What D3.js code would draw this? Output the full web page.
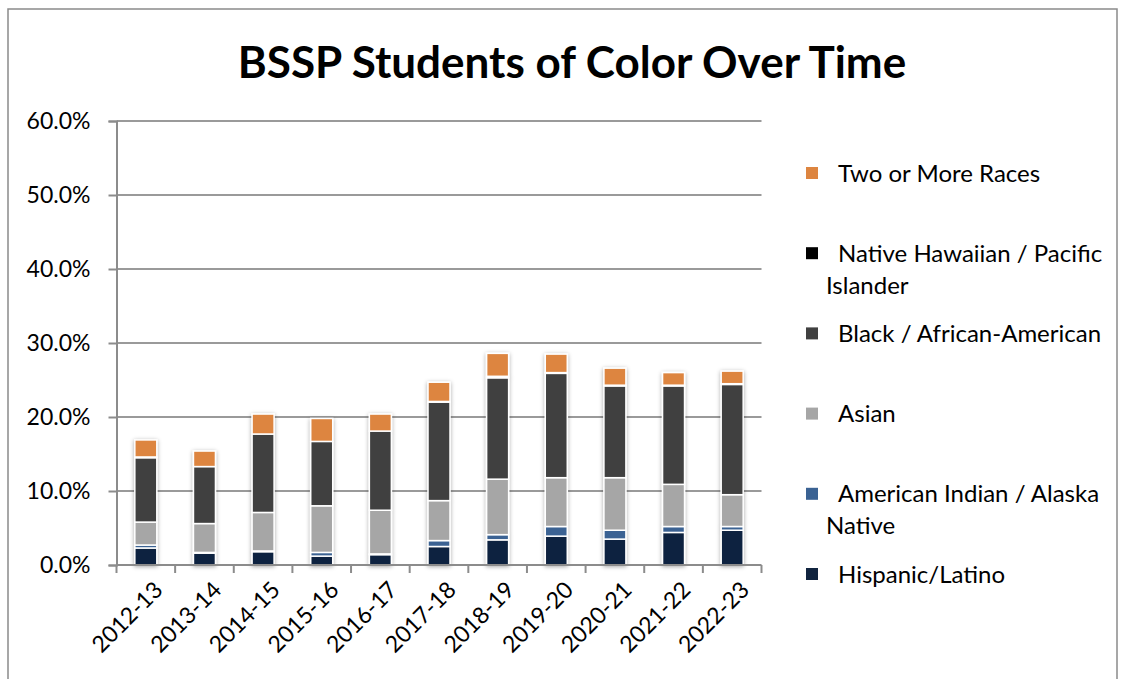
<!DOCTYPE html>
<html>
<head>
<meta charset="UTF-8">
<title>BSSP Students of Color Over Time</title>
<script src="https://d3js.org/d3.v7.min.js"></script>
<style>
    body { margin: 0; background: #fff; }
    svg { display: block; font-family: Lato, "Open Sans", sans-serif; }
    .grid line { stroke: #9a9a9a; stroke-width: 2; }
    .axis path, .axis line { stroke: #8c8c8c; stroke-width: 2; }
    .axis text { font-family: Lato, "Open Sans", sans-serif; font-size: 23px; fill: #000; }
    .legend text { font-size: 24px; fill: #000; }
</style>
</head>
<body>
<script>
// values in percent
var years = ["2012-13", "2013-14", "2014-15", "2015-16", "2016-17", "2017-18",
             "2018-19", "2019-20", "2020-21", "2021-22", "2022-23"];
var hispanic = [2.3, 1.6, 1.8, 1.2, 1.4, 2.5, 3.4, 3.9, 3.5, 4.4, 4.7];
var amIndian = [0.4, 0.1, 0.1, 0.5, 0.1, 0.8, 0.7, 1.3, 1.2, 0.8, 0.5];
var asian    = [3.1, 3.9, 5.2, 6.3, 5.9, 5.4, 7.5, 6.6, 7.1, 5.7, 4.3];
var black    = [8.7, 7.7, 10.6, 8.7, 10.7, 13.3, 13.7, 14.1, 12.4, 13.3, 14.9];
var nhpi     = [0.1, 0, 0, 0, 0, 0.1, 0.2, 0.1, 0.1, 0.1, 0.1];
var twoMore  = [2.3, 2.1, 2.7, 3.1, 2.3, 2.6, 3.1, 2.5, 2.3, 1.7, 1.7];
var yTicks   = [0, 10, 20, 30, 40, 50, 60];

var keys   = ["Hispanic/Latino", "American Indian / Alaska Native", "Asian",
              "Black / African-American", "Native Hawaiian / Pacific Islander", "Two or More Races"];
var series = [hispanic, amIndian, asian, black, nhpi, twoMore];
var colors = ["#11243f", "#3a6293", "#a6a6a6", "#404040", "#000000", "#dd8540"];

var W = 1123, H = 679;
var svg = d3.select("body").append("svg").attr("width", W).attr("height", H);

var defs = svg.append("defs");
var f = defs.append("filter").attr("id", "shadow")
    .attr("x", "-40%").attr("y", "-10%").attr("width", "180%").attr("height", "120%");
f.append("feDropShadow").attr("dx", 0).attr("dy", 1).attr("stdDeviation", 2)
    .attr("flood-color", "#000").attr("flood-opacity", 0.35);

// outer frame
svg.append("rect").attr("x", 8).attr("y", 9).attr("width", 1109).attr("height", 700)
    .attr("fill", "none").attr("stroke", "#8a8a8a").attr("stroke-width", 1.5);

svg.append("text").attr("x", 572).attr("y", 78).attr("text-anchor", "middle")
    .attr("font-size", 44).attr("font-weight", "bold").text("BSSP Students of Color Over Time");

var table = years.map(function (yr, i) {
    var row = {year: yr};
    keys.forEach(function (k, j) { row[k] = series[j][i]; });
    return row;
});
var stacked = d3.stack().keys(keys)(table);

var x = d3.scaleBand().domain(years).range([116.5, 761.5]);
var y = d3.scaleLinear().domain([0, 60]).range([565, 121]);
var color = d3.scaleOrdinal().domain(keys).range(colors);

svg.append("g").attr("class", "grid").selectAll("line").data(yTicks.slice(1)).enter().append("line")
    .attr("x1", x.range()[0]).attr("x2", x.range()[1])
    .attr("y1", function (d) { return y(d); }).attr("y2", function (d) { return y(d); });

var yAxis = svg.append("g").attr("class", "axis").attr("transform", "translate(" + x.range()[0] + ",0)")
    .call(d3.axisLeft(y).tickValues(yTicks).tickSize(8).tickPadding(18)
        .tickFormat(function (d) { return d.toFixed(1) + "%"; }));

// bars, one group per year
var barW = 22;
var groups = svg.append("g").selectAll("g.bar").data(years).enter().append("g")
    .attr("class", "bar").attr("filter", "url(#shadow)");
groups.selectAll("rect").data(function (yr, i) {
    return stacked.map(function (s) { return {key: s.key, y0: s[i][0], y1: s[i][1], year: yr}; })
        .filter(function (d) { return d.y1 > d.y0; });
}).enter().append("rect")
    .attr("x", function (d) { return x(d.year) + x.bandwidth() / 2 - barW / 2; })
    .attr("width", barW)
    .attr("y", function (d) { return y(d.y1); })
    .attr("height", function (d) { return y(d.y0) - y(d.y1); })
    .attr("fill", function (d) { return color(d.key); })
    .attr("stroke", "#fff").attr("stroke-width", 1.5);

// x axis with ticks at category boundaries
var xAxis = svg.append("g").attr("class", "axis").attr("transform", "translate(0,565)");
xAxis.append("path").attr("d", "M" + x.range()[0] + ",0H" + x.range()[1]);
xAxis.selectAll("line").data(years.map(function (d) { return x(d); }).concat([x.range()[1]]))
    .enter().append("line")
    .attr("x1", function (d) { return d; }).attr("x2", function (d) { return d; })
    .attr("y1", 0).attr("y2", 8);
xAxis.selectAll("text").data(years).enter().append("text")
    .attr("transform", function (d) {
        return "translate(" + (x(d) + x.bandwidth() / 2 + 7) + ",15) rotate(-45)";
    })
    .attr("text-anchor", "end").attr("dy", "0.7em").text(function (d) { return d; });

// legend (top to bottom is reverse of stack order)
var legendItems = [
    {key: keys[5], lines: ["Two or More Races"]},
    {key: keys[4], lines: ["Native Hawaiian / Pacific", "Islander"]},
    {key: keys[3], lines: ["Black / African-American"]},
    {key: keys[2], lines: ["Asian"]},
    {key: keys[1], lines: ["American Indian / Alaska", "Native"]},
    {key: keys[0], lines: ["Hispanic/Latino"]}
];
var lg = svg.append("g").attr("class", "legend").selectAll("g").data(legendItems).enter().append("g")
    .attr("transform", function (d, i) { return "translate(806," + (173 + i * 80.2) + ")"; });
lg.append("rect").attr("x", 0).attr("y", -6).attr("width", 12).attr("height", 12)
    .attr("fill", function (d) { return color(d.key); });
lg.each(function (d) {
    var g = d3.select(this);
    d.lines.forEach(function (t, j) {
        g.append("text").attr("x", j === 0 ? 32 : 20).attr("y", j * 32)
            .attr("dy", "0.36em").text(t);
    });
});
</script>
</body>
</html>
